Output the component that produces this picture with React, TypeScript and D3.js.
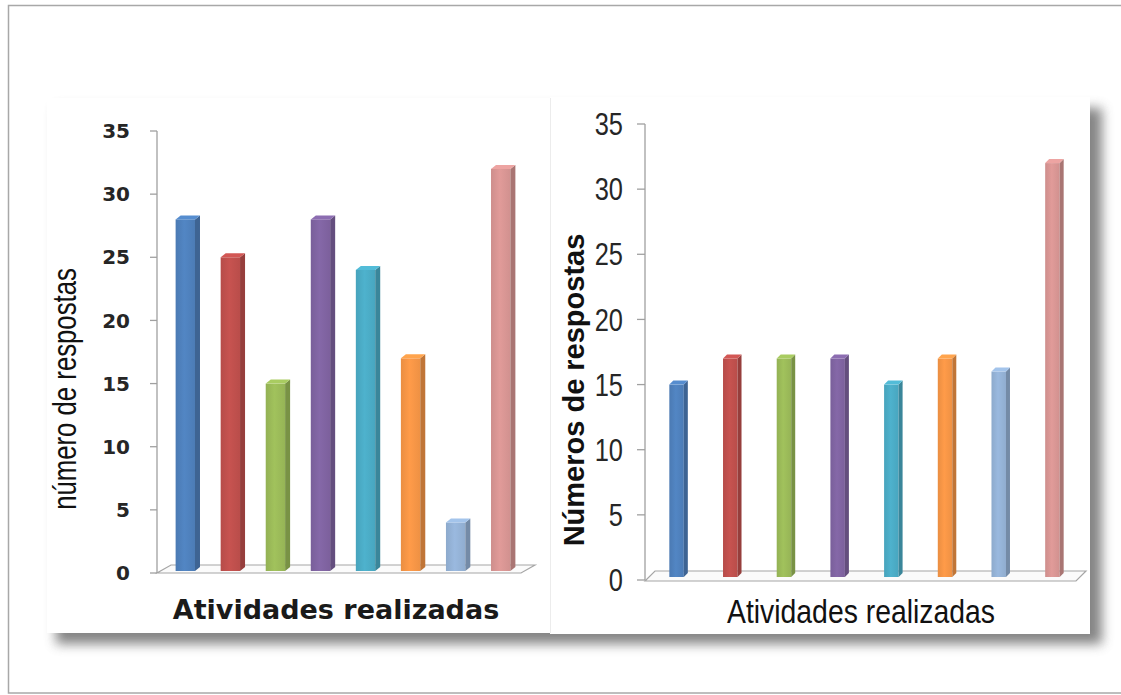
import React from "react";
import * as d3 from "d3";

// Activities (not labelled on the axis), one colour each
const activities = ["a1", "a2", "a3", "a4", "a5", "a6", "a7", "a8"];
const barColors = ["#4F81BD", "#C0504D", "#9BBB59", "#8064A2", "#4BACC6", "#F79646", "#95B3D7", "#D99694"];

// Responses per activity, first panel and second panel
const responsesLeft = [28, 25, 15, 28, 24, 17, 4, 32];
const responsesRight = [15, 17, 17, 17, 15, 17, 16, 32];

const yTicks = [0, 5, 10, 15, 20, 25, 30, 35];
const yTitleLeft = "número de respostas";
const yTitleRight = "Números de respostas";
const xTitle = "Atividades realizadas";

// narrow face emulated by squeezing Liberation Sans horizontally
const NARROW = "'Liberation Sans', Arial, sans-serif";
const NARROW_SX = 0.82;

type PanelCfg = {
  values: number[];
  axisX: number;
  yTop: number;
  yZero: number;
  bandRange: [number, number];
  padInner: number;
  padOuter: number;
  barBottom: number;
  dx: number;
  dy: number;
  floor: { x0: number; x1: number; yFront: number; fdx: number; fdy: number };
  tickLen: number;
};

function Bars3D({ cfg }: { cfg: PanelCfg }) {
  const y = d3.scaleLinear().domain([0, 35]).range([cfg.yZero, cfg.yTop]);
  const x = d3
    .scaleBand<string>()
    .domain(activities)
    .range(cfg.bandRange)
    .paddingInner(cfg.padInner)
    .paddingOuter(cfg.padOuter);
  const w = x.bandwidth();
  const { dx, dy } = cfg;
  const f = cfg.floor;
  const floorPath = d3.path();
  floorPath.moveTo(f.x0, f.yFront);
  floorPath.lineTo(f.x1, f.yFront);
  floorPath.lineTo(f.x1 + f.fdx, f.yFront - f.fdy);
  floorPath.lineTo(f.x0 + f.fdx, f.yFront - f.fdy);
  floorPath.closePath();

  return (
    <g>
      <path d={floorPath.toString()} fill="#fbfbfb" stroke="#a6a6a6" strokeWidth={1.2} />
      <line x1={cfg.axisX} x2={cfg.axisX} y1={y(35)} y2={y(0)} stroke="#a0a0a0" strokeWidth={1.3} />
      {yTicks.map((t) => (
        <line
          key={t}
          x1={cfg.axisX - cfg.tickLen}
          x2={cfg.axisX}
          y1={y(t)}
          y2={y(t)}
          stroke="#a0a0a0"
          strokeWidth={1.3}
        />
      ))}
      {activities.map((a, i) => {
        const v = cfg.values[i];
        const x0 = x(a)!;
        const yt = y(v);
        const yb = cfg.barBottom;
        const base = d3.color(barColors[i])!;
        const side = base.darker(0.7).formatHex();
        const top = base.brighter(0.25).formatHex();
        const sidePts = [
          [x0 + w, yt],
          [x0 + w + dx, yt - dy],
          [x0 + w + dx, yb - dy],
          [x0 + w, yb],
        ];
        const topPts = [
          [x0, yt],
          [x0 + dx, yt - dy],
          [x0 + w + dx, yt - dy],
          [x0 + w, yt],
        ];
        return (
          <g key={a}>
            <rect x={x0} y={yt} width={w} height={yb - yt} fill={`url(#grad-${i})`} />
            <polygon points={sidePts.map((p) => p.join(",")).join(" ")} fill={side} />
            <polygon points={topPts.map((p) => p.join(",")).join(" ")} fill={top} />
          </g>
        );
      })}
    </g>
  );
}

export default function App() {
  const left: PanelCfg = {
    values: responsesLeft,
    axisX: 157,
    yTop: 131,
    yZero: 573,
    bandRange: [163, 523],
    padInner: 0.57,
    padOuter: 0.28,
    barBottom: 571,
    dx: 5,
    dy: 4,
    floor: { x0: 157, x1: 521, yFront: 573, fdx: 14, fdy: 8 },
    tickLen: 7,
  };
  const right: PanelCfg = {
    values: responsesRight,
    axisX: 645,
    yTop: 124,
    yZero: 580,
    bandRange: [650, 1079],
    padInner: 0.73,
    padOuter: 0.36,
    barBottom: 577,
    dx: 4,
    dy: 4,
    floor: { x0: 645, x1: 1076, yFront: 581, fdx: 10, fdy: 10 },
    tickLen: 8,
  };
  const yl = d3.scaleLinear().domain([0, 35]).range([left.yZero, left.yTop]);
  const yr = d3.scaleLinear().domain([0, 35]).range([right.yZero, right.yTop]);

  return (
    <svg
      width={1121}
      height={695}
      style={{ position: "absolute", left: 0, top: 0, background: "#fff" }}
    >
      <defs>
        <filter id="panelShadow" x="-10%" y="-10%" width="120%" height="120%">
          <feGaussianBlur stdDeviation="6" />
        </filter>
        {barColors.map((c, i) => {
          const col = d3.color(c)!;
          return (
            <linearGradient key={i} id={`grad-${i}`} x1="0" x2="1" y1="0" y2="0">
              <stop offset="0" stopColor={col.darker(0.15).formatHex()} />
              <stop offset="0.45" stopColor={col.brighter(0.1).formatHex()} />
              <stop offset="1" stopColor={col.darker(0.1).formatHex()} />
            </linearGradient>
          );
        })}
      </defs>

      {/* outer frame */}
      <rect x={8.5} y={5.5} width={1130} height={687.5} fill="none" stroke="#a8a8a8" strokeWidth={1.5} />

      {/* soft shadow behind both panels */}
      <rect x={56} y={108} width={1046} height={536} fill="#6f6f6f" filter="url(#panelShadow)" opacity={0.85} />
      <rect x={47} y={98} width={503} height={535} fill="#ffffff" />
      <rect x={550} y={97} width={540} height={537} fill="#ffffff" />
      <line x1={550.5} x2={550.5} y1={98} y2={633} stroke="#ececec" strokeWidth={1} />

      {/* left chart */}
      <Bars3D cfg={left} />
      {yTicks.map((t) => (
        <text
          key={t}
          x={130}
          y={yl(t)}
          dy="0.36em"
          textAnchor="end"
          fontFamily="'DejaVu Sans', Verdana, sans-serif"
          fontWeight="bold"
          fontSize={20}
          fill="#262626"
        >
          {t}
        </text>
      ))}
      <text
        transform="translate(76,389) rotate(-90) scale(0.78,1)"
        textAnchor="middle"
        fontFamily={NARROW}
        fontSize={33}
        fill="#111"
      >
        {yTitleLeft}
      </text>
      <text
        x={336}
        y={619}
        textAnchor="middle"
        fontFamily="'DejaVu Sans', Verdana, sans-serif"
        fontWeight="bold"
        fontSize={27}
        fill="#1a1a1a"
      >
        {xTitle}
      </text>

      {/* right chart */}
      <Bars3D cfg={right} />
      {yTicks.map((t) => (
        <text
          key={t}
          transform={`translate(623,${yr(t)}) scale(${NARROW_SX},1)`}
          dy="0.36em"
          textAnchor="end"
          fontFamily={NARROW}
          fontSize={31}
          fill="#262626"
        >
          {t}
        </text>
      ))}
      <text
        transform="translate(584,390) rotate(-90)"
        textAnchor="middle"
        fontFamily="'Liberation Sans', Arial, sans-serif"
        fontWeight="bold"
        fontSize={29}
        fill="#111"
      >
        {yTitleRight}
      </text>
      <text
        transform="translate(861,623) scale(0.86,1)"
        textAnchor="middle"
        fontFamily={NARROW}
        fontSize={33}
        fill="#111"
      >
        {xTitle}
      </text>
    </svg>
  );
}
